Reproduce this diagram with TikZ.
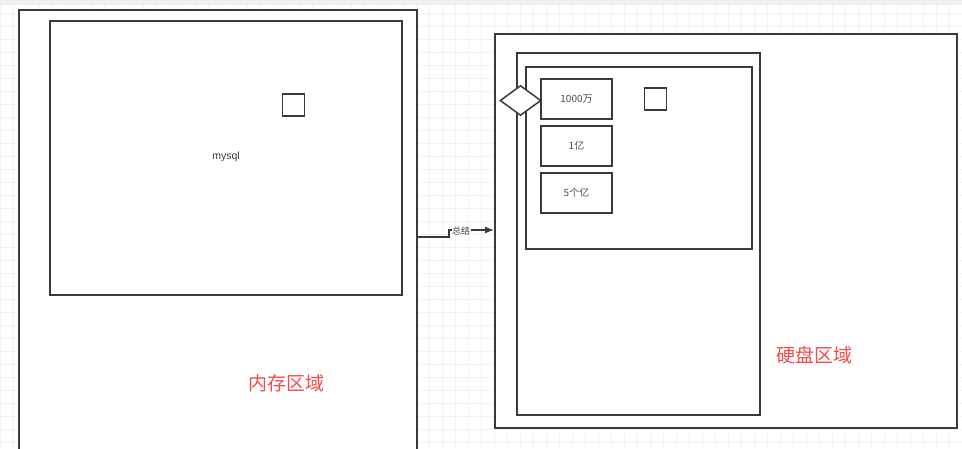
\documentclass[tikz,border=0pt]{standalone}
\usepackage{fontspec}
\setmainfont{Liberation Sans}
\newfontfamily\cjk{Noto Sans CJK SC}
\usetikzlibrary{shapes.geometric,arrows.meta}
\definecolor{ln}{HTML}{3A3A3A}
\definecolor{redtxt}{HTML}{F24B4B}
\definecolor{gridc}{HTML}{F2F2F2}
\tikzset{
  box/.style={draw=ln, line width=1.5pt, fill=white, inner sep=0pt, anchor=north west},
  valbox/.style={box, minimum width=71pt, minimum height=40pt, anchor=center, font=\cjk\fontsize{10}{11}\selectfont, text=ln!90},
  sq/.style={draw=ln, line width=1.5pt, fill=white, minimum size=22pt, inner sep=0pt},
  area/.style={font=\cjk\fontsize{19}{21}\selectfont, text=redtxt},
}
\begin{document}
\begin{tikzpicture}[x=1pt,y=-1pt]
\useasboundingbox (0,0) rectangle (962,448);
\fill[white] (0,0) rectangle (962,448);
\draw[gridc, line width=0.6pt] (0,5) grid[step=13pt] (962,448);
\fill[gray!12] (0,0) rectangle (962,5);
% left
\node[box, minimum width=398pt, minimum height=450pt] (mem) at (18,9) {};
\node[box, minimum width=352pt, minimum height=274pt] (db) at (49,20) {};
\node[sq] (s1) at (293.5,105) {};
\node[font=\fontsize{10.5}{12}\selectfont, text=ln] (mysql) at (226,157) {mysql};
\node[area] (memlbl) at (286,383) {内存区域};
% right
\node[box, minimum width=462pt, minimum height=394pt] (disk) at (494,33) {};
\node[box, minimum width=243pt, minimum height=362pt] (file) at (516,52) {};
\node[box, minimum width=226pt, minimum height=182pt] (idx) at (525,66) {};
\node[valbox] (b1) at (576.5,99) {1000万};
\node[valbox] (b2) at (576.5,146) {1亿};
\node[valbox] (b3) at (576.5,193) {5个亿};
\node[draw=ln, line width=1.5pt, fill=white, diamond, aspect=1.35, minimum width=41pt, minimum height=30pt, inner sep=0pt] (dm) at (520.5,100.5) {};
\node[sq] (s2) at (655.5,99) {};
\node[area] (disklbl) at (814,355) {硬盘区域};
% connector
\coordinate (c1) at (449,237);
\draw[ln, line width=1.2pt, -{Latex[length=9pt,width=7pt]}] (mem.east |- c1) -- (c1) |- (disk.west |- 0,230);
\node[fill=white, inner sep=0.5pt, font=\cjk\fontsize{9}{10}\selectfont, text=ln] (lbl) at (461,231) {总结};
\end{tikzpicture}
\end{document}
